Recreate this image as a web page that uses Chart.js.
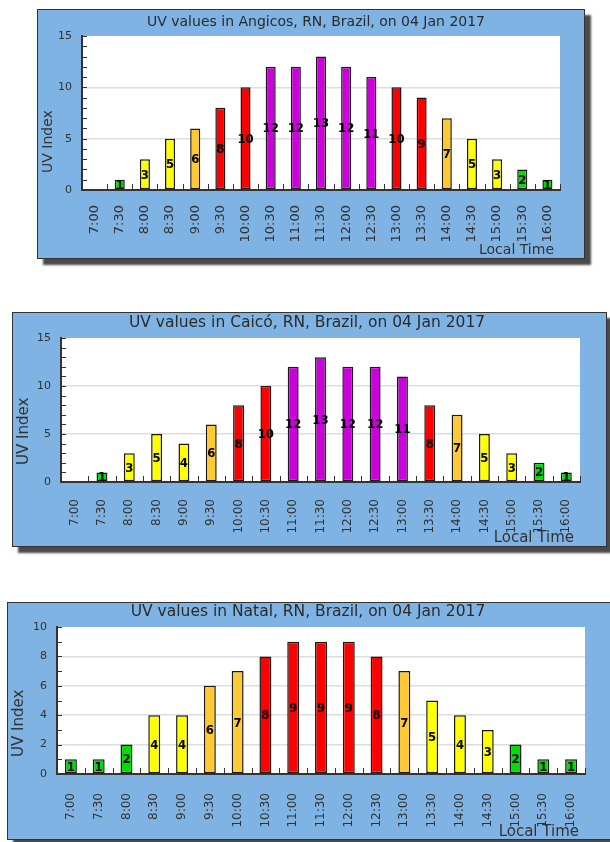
<!DOCTYPE html>
<html>
<head>
<meta charset="utf-8">
<script src="https://cdn.jsdelivr.net/npm/chart.js@4.4.1/dist/chart.umd.min.js"></script>
<style>
body { margin: 0; background: #fff; width: 610px; height: 842px; overflow: hidden; position: relative; }
.panel { position: absolute; box-sizing: border-box; background: #7fb3e3; border: 1px solid #333; box-shadow: 6px 6px 2px #4a4a4a; }
.panel canvas { position: absolute; left: 0; top: 0; }
</style>
</head>
<body>
<div class="panel" style="left:37px;top:9px;width:548px;height:250px"><canvas id="c1" width="546" height="248"></canvas></div>
<div class="panel" style="left:12px;top:312px;width:595px;height:235px"><canvas id="c2" width="593" height="233"></canvas></div>
<div class="panel" style="left:7px;top:602px;width:610px;height:238px"><canvas id="c3" width="608" height="236"></canvas></div>
<script>
const times = ['7:00', '7:30', '8:00', '8:30', '9:00', '9:30', '10:00', '10:30', '11:00', '11:30',
    '12:00', '12:30', '13:00', '13:30', '14:00', '14:30', '15:00', '15:30', '16:00'];
const angicosUV = [0, 1, 3, 5, 6, 8, 10, 12, 12, 13, 12, 11, 10, 9, 7, 5, 3, 2, 1];
const caicoUV = [0, 1, 3, 5, 4, 6, 8, 10, 12, 13, 12, 12, 11, 8, 7, 5, 3, 2, 1];
const natalUV = [1, 1, 2, 4, 4, 6, 7, 8, 9, 9, 9, 8, 7, 5, 4, 3, 2, 1, 1];

function uvColor(v) {
    if (v <= 2) return '#00dd00';
    if (v <= 5) return '#ffff00';
    if (v <= 7) return '#ffc933';
    if (v <= 10) return '#ff0000';
    return '#cc00dd';
}

// white plot area
const plotBg = {
    id: 'plotBg',
    beforeDraw(chart) {
        const {ctx, chartArea: a} = chart;
        ctx.save();
        ctx.fillStyle = '#fff';
        ctx.fillRect(a.left, a.top, a.right - a.left, a.bottom - a.top);
        ctx.restore();
    }
};

// titles, inward ticks and the value in the middle of each bar
const uvExtras = {
    id: 'uvExtras',
    afterDatasetsDraw(chart, args, o) {
        const {ctx, chartArea, scales} = chart;
        ctx.save();
        ctx.strokeStyle = '#333';
        ctx.lineWidth = 1;
        scales.y.ticks.forEach(t => {
            const y = Math.round(scales.y.getPixelForValue(t.value)) + 0.5;
            ctx.beginPath();
            ctx.moveTo(chartArea.left, y);
            ctx.lineTo(chartArea.left + 5, y);
            ctx.stroke();
        });
        for (let i = 0; i <= times.length; i++) {
            const x = Math.round(scales.x.getPixelForValue(i - 0.5)) + 0.5;
            ctx.beginPath();
            ctx.moveTo(x, chartArea.bottom);
            ctx.lineTo(x, chartArea.bottom - 6);
            ctx.stroke();
        }

        const meta = chart.getDatasetMeta(0);
        const vals = chart.data.datasets[0].data;
        ctx.fillStyle = '#000';
        ctx.font = 'bold 13px "DejaVu Sans Condensed", "DejaVu Sans", sans-serif';
        ctx.textAlign = 'center';
        ctx.textBaseline = 'middle';
        meta.data.forEach((bar, i) => {
            if (!vals[i]) return;
            ctx.fillText(String(vals[i]), bar.x, (bar.y + bar.base) / 2 + 1);
        });

        ctx.fillStyle = '#2b2b2b';
        ctx.font = o.titleSize + 'px "DejaVu Sans"';
        ctx.fillText(o.title, o.tx, o.ty);

        ctx.fillStyle = '#333';
        ctx.font = o.axisSize + 'px "DejaVu Sans"';
        ctx.textAlign = 'right';
        ctx.fillText('Local Time', chartArea.right - 6, o.lty);

        ctx.translate(o.ytx, chartArea.bottom - 17);
        ctx.rotate(-Math.PI / 2);
        ctx.textAlign = 'left';
        ctx.fillText('UV Index', 0, 0);
        ctx.restore();
    }
};

function makeChart(id, title, values, yMax, labelStep, gridStep, g) {
    return new Chart(document.getElementById(id), {
        type: 'bar',
        data: {
            labels: times,
            datasets: [{
                data: values,
                backgroundColor: values.map(uvColor),
                borderColor: '#1a1a1a',
                borderWidth: values.map(v => v ? 1.5 : 0),
                borderSkipped: false,
                barPercentage: g.bar,
                categoryPercentage: 1
            }]
        },
        options: {
            responsive: false,
            animation: false,
            layout: { padding: { top: g.top, right: g.right, left: 0, bottom: 0 } },
            plugins: {
                legend: { display: false },
                tooltip: { enabled: false },
                uvExtras: {
                    title: title, titleSize: g.ts, tx: g.tx, ty: g.ty,
                    axisSize: g.as, lty: g.lty, ytx: g.ytx
                }
            },
            scales: {
                x: {
                    afterFit: s => { s.height = g.xh; },
                    grid: { display: false },
                    border: { display: true, color: '#333', width: 2 },
                    ticks: {
                        autoSkip: false,
                        minRotation: 90,
                        maxRotation: 90,
                        padding: g.xpad,
                        color: '#333',
                        font: { family: 'DejaVu Sans', size: g.xs }
                    }
                },
                y: {
                    min: 0,
                    max: yMax,
                    afterFit: s => { s.width = g.yw; },
                    border: { display: true, color: '#333', width: 2 },
                    grid: {
                        drawTicks: false,
                        lineWidth: 1.5,
                        color: c => (c.tick.value > 0 && c.tick.value < yMax && c.tick.value % gridStep === 0) ? '#dddddd' : 'rgba(0,0,0,0)'
                    },
                    ticks: {
                        stepSize: 1,
                        autoSkip: false,
                        padding: 10,
                        color: '#333',
                        font: { family: 'DejaVu Sans', size: 11 },
                        callback: v => v % labelStep === 0 ? v : ''
                    }
                }
            }
        },
        plugins: [plotBg, uvExtras]
    });
}

makeChart('c1', 'UV values in Angicos, RN, Brazil, on 04 Jan 2017', angicosUV, 15, 5, 5,
    { top: 26, right: 24, yw: 44, xh: 68, xpad: 7, xs: 13, bar: 0.4,
      ts: 14, tx: 278, ty: 12, as: 14, lty: 240, ytx: 10 });
makeChart('c2', 'UV values in Caicó, RN, Brazil, on 04 Jan 2017', caicoUV, 15, 5, 5,
    { top: 25, right: 26, yw: 48, xh: 64, xpad: 9, xs: 12, bar: 0.4,
      ts: 15.5, tx: 294, ty: 10, as: 15, lty: 225, ytx: 11 });
makeChart('c3', 'UV values in Natal, RN, Brazil, on 04 Jan 2017', natalUV, 10, 2, 2,
    { top: 24, right: 31, yw: 49, xh: 65, xpad: 11, xs: 12, bar: 0.43,
      ts: 15.5, tx: 300, ty: 9, as: 15, lty: 229, ytx: 11 });
</script>
</body>
</html>
